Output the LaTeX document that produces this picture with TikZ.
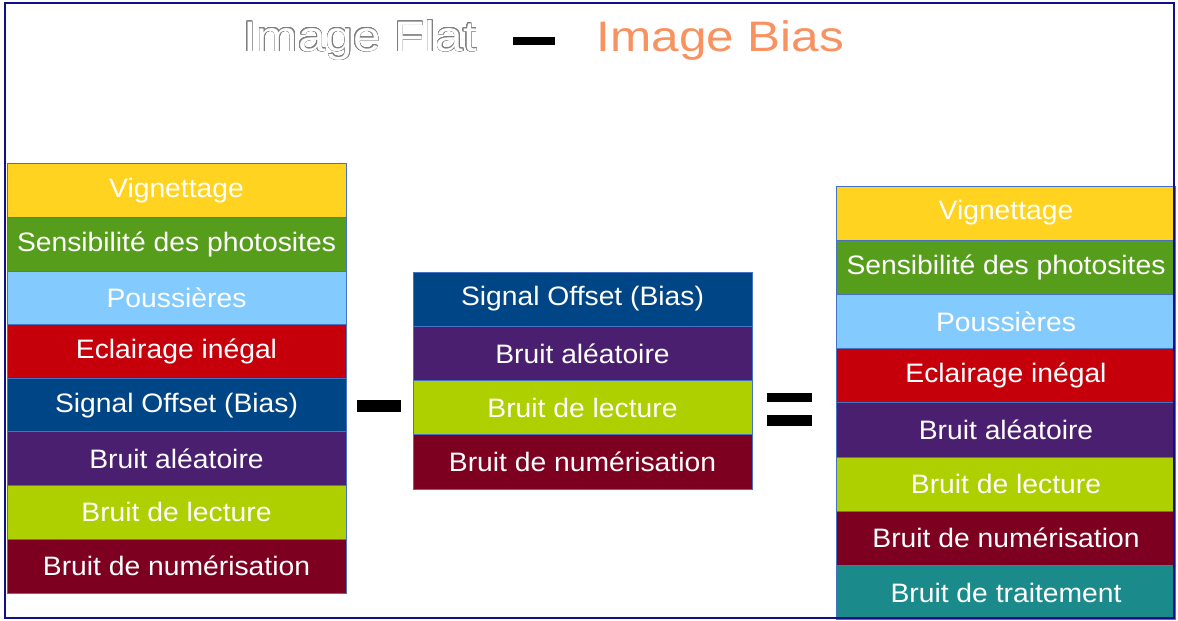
\documentclass[tikz,border=0pt]{standalone}
\usepackage{fontspec}
\setmainfont{Liberation Sans}
\newfontfamily\titlefont[FakeStretch=1.16]{Liberation Sans}
\newfontfamily\layerfont[FakeStretch=1.06]{Liberation Sans}
\usepackage{contour}
\contourlength{0.4pt}
\contournumber{24}

\definecolor{cvignet}{RGB}{255,211,32}
\definecolor{csensib}{RGB}{87,157,28}
\definecolor{cpouss}{RGB}{131,202,255}
\definecolor{ceclair}{RGB}{197,0,11}
\definecolor{coffset}{RGB}{0,69,134}
\definecolor{calea}{RGB}{75,31,111}
\definecolor{clect}{RGB}{174,207,0}
\definecolor{cnum}{RGB}{126,0,33}
\definecolor{ctrait}{RGB}{27,138,138}
\definecolor{layerline}{RGB}{70,114,196}
\definecolor{framecol}{RGB}{16,16,140}
\definecolor{biasorange}{RGB}{248,146,96}

\begin{document}
\begin{tikzpicture}[x=0.75pt, y=-0.75pt,
  layer/.style={draw=layerline, line width=0.6pt, fill=#1, text=white,
                minimum width=254.25pt, minimum height=40.65pt,
                inner sep=0pt, outer sep=0pt,
                font=\layerfont\fontsize{20}{24}\selectfont},
  bar/.style={fill=black, inner sep=0pt, outer sep=0pt, minimum width=33pt},
  title/.style={anchor=base, inner sep=0pt,
                font=\titlefont\fontsize{32}{38}\selectfont}
]
  \useasboundingbox (0,0) rectangle (1178,621);

  % title
  \node[title] (flat) at (360,51) {\contour{gray}{\textcolor{white}{Image Flat}}};
  \node[bar, minimum width=31.5pt, minimum height=6pt] (tminus) at (534,41) {};
  \node[title, text=biasorange] (bias) at (720.5,51) {Image Bias};

  % image flat
  \node[layer=cvignet] (f1) at (176.5,190.8) {Vignettage};
  \node[layer=csensib] (f2) at (176.5,244.4) {Sensibilité des photosites};
  \node[layer=cpouss]  (f3) at (176.5,298.0) {Poussières};
  \node[layer=ceclair] (f4) at (176.5,351.6) {Eclairage inégal};
  \node[layer=coffset] (f5) at (176.5,405.2) {Signal Offset (Bias)};
  \node[layer=calea]   (f6) at (176.5,458.8) {Bruit aléatoire};
  \node[layer=clect]   (f7) at (176.5,512.4) {Bruit de lecture};
  \node[layer=cnum]    (f8) at (176.5,566.0) {Bruit de numérisation};

  \node[bar, minimum height=9pt] (minus) at (379,406) {};

  % image bias
  \node[layer=coffset] (b1) at (582.5,299.1) {Signal Offset (Bias)};
  \node[layer=calea]   (b2) at (582.5,353.4) {Bruit aléatoire};
  \node[layer=clect]   (b3) at (582.5,407.6) {Bruit de lecture};
  \node[layer=cnum]    (b4) at (582.5,461.9) {Bruit de numérisation};

  \node[bar, minimum width=34pt, minimum height=7pt] (eqtop) at (789.5,397.5) {};
  \node[bar, minimum width=34pt, minimum height=8pt] (eqbot) at (789.5,420.5) {};

  % result
  \node[layer=cvignet] (r1) at (1006,213.1) {Vignettage};
  \node[layer=csensib] (r2) at (1006,267.3) {Sensibilité des photosites};
  \node[layer=cpouss]  (r3) at (1006,321.5) {Poussières};
  \node[layer=ceclair] (r4) at (1006,375.7) {Eclairage inégal};
  \node[layer=calea]   (r5) at (1006,429.9) {Bruit aléatoire};
  \node[layer=clect]   (r6) at (1006,484.1) {Bruit de lecture};
  \node[layer=cnum]    (r7) at (1006,538.3) {Bruit de numérisation};
  \node[layer=ctrait]  (r8) at (1006,592.5) {Bruit de traitement};

  \draw[framecol, line width=1.6pt] (5,3) rectangle (1174,618);
\end{tikzpicture}
\end{document}
